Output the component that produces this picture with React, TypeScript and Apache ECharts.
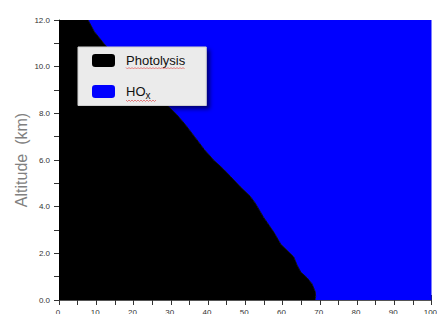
import React, { useEffect, useRef } from "react";
import * as echarts from "echarts";

const altitude = [0, 0.15, 0.35, 0.7, 0.95, 1.2, 1.5, 1.85, 2.4, 2.9, 3.55, 4.15, 4.45, 4.85, 5.3, 5.6, 6.0, 6.45, 7.0, 7.5, 7.95, 8.5, 9.0, 9.5, 10.0, 10.5, 11.0, 11.5, 12.0];
const photolysis = [68.7, 68.9, 68.8, 67.9, 66.6, 64.9, 63.9, 63.0, 59.5, 57.7, 54.9, 52.7, 51.3, 48.7, 46.0, 44.2, 41.5, 39.0, 36.4, 34.0, 31.6, 28.0, 24.5, 21.0, 17.7, 14.8, 12.0, 9.5, 7.8];
const hox = photolysis.map((p) => 100 - p);
const seriesNames = ["Photolysis", "HOx"];
const xTicks = [0, 100];
const yTicks = [0, 12];

export default function App() {
  const ref = useRef<HTMLDivElement>(null);
  useEffect(() => {
    document.body.style.margin = "0";
    document.body.style.overflow = "hidden";
    const chart = echarts.init(ref.current!, undefined, { renderer: "svg" });
    const boundary = altitude.map((a, i) => [photolysis[i], a]);
    const hoxData = altitude.map((a, i) => [100 - hox[i], a]);
    const zig = (x0: number, x1: number, y: number) => {
      const pts: number[][] = [];
      let up = true;
      for (let x = x0; x <= x1; x += 1.5) {
        pts.push([x, y + (up ? 0 : 1.5)]);
        up = !up;
      }
      return pts;
    };
    chart.setOption({
      animation: false,
      grid: { left: 59, right: 5.5, top: 20, bottom: 14, containLabel: false, outerBoundsMode: "none" },
      xAxis: [
        {
          type: "value", min: xTicks[0], max: xTicks[1], interval: 5, position: "bottom",
          axisLine: { show: true, lineStyle: { color: "#333", width: 1 } },
          axisTick: { show: true, length: 5, lineStyle: { color: "#333" } },
          splitLine: { show: false },
          axisLabel: {
            margin: 8, fontSize: 8, color: "#333", fontFamily: "Liberation Sans",
            formatter: (v: number) => (v % 10 === 0 ? v + "." : ""),
          },
        },
        {
          type: "value", min: xTicks[0], max: xTicks[1], interval: 5, position: "top",
          axisLine: { show: true, lineStyle: { color: "#555", width: 1 } },
          axisTick: { show: true, length: 5, lineStyle: { color: "#333" } },
          splitLine: { show: false },
          axisLabel: { show: false },
        },
      ],
      yAxis: [
        {
          type: "value", min: yTicks[0], max: yTicks[1], interval: 1, position: "left",
          name: "Altitude  (km)", nameLocation: "middle", nameGap: 30, nameMoveOverlap: false,
          nameTextStyle: { fontSize: 16, color: "#808080", fontFamily: "Liberation Sans" },
          axisLine: { show: true, lineStyle: { color: "#333", width: 1 } },
          axisTick: { show: true, length: 5, lineStyle: { color: "#333" } },
          splitLine: { show: false },
          axisLabel: {
            margin: 9, fontSize: 8, color: "#333", fontFamily: "Liberation Sans",
            formatter: (v: number) => (v % 2 === 0 ? v.toFixed(1) : ""),
          },
        },
        {
          type: "value", min: yTicks[0], max: yTicks[1], position: "right",
          axisLine: { show: true, lineStyle: { color: "#8a8", width: 1 } },
          axisTick: { show: false }, axisLabel: { show: false }, splitLine: { show: false },
        },
      ],
      legend: {
        data: seriesNames,
        orient: "vertical",
        left: 78, top: 47,
        padding: [7, 21, 5, 14],
        itemWidth: 23, itemHeight: 13, itemGap: 18,
        icon: "roundRect",
        backgroundColor: "#ebebeb",
        borderColor: "#d0d0d0", borderWidth: 1,
        shadowBlur: 4, shadowOffsetX: 3, shadowOffsetY: 3, shadowColor: "rgba(0,0,0,0.55)",
        selectedMode: false,
        formatter: (name: string) => (name === "HOx" ? "{n|HO}{s|x}" : "{n|" + name + "}"),
        textStyle: {
          fontFamily: "Liberation Sans", fontSize: 13, color: "#111",
          rich: {
            n: { fontFamily: "Liberation Sans", fontSize: 13, color: "#111", padding: [0, 0, 0, 6] },
            s: { fontFamily: "Liberation Sans", fontSize: 10, color: "#111", padding: [8, 0, 0, 0] },
          },
        },
      },
      graphic: [
        { type: "polyline", z: 100, shape: { points: zig(126, 185, 67.5) }, style: { stroke: "#e06060", lineWidth: 0.8, fill: null } },
        { type: "polyline", z: 100, shape: { points: zig(126, 157, 100) }, style: { stroke: "#e06060", lineWidth: 0.8, fill: null } },
      ],
      series: [
        {
          name: "HOx", type: "custom", coordinateSystem: "cartesian2d",
          itemStyle: { color: "#0000ff" }, encode: { x: 0, y: 1 }, clip: true,
          data: hoxData,
          renderItem: (params: any, api: any) => {
            if (params.dataIndex !== 0) return null;
            const pts = hoxData.map((d) => api.coord(d));
            const poly = [...pts, api.coord([100, 12]), api.coord([100, 0])];
            return { type: "polygon", shape: { points: poly }, style: { fill: "#0000ff" } };
          },
        },
        {
          name: "Photolysis", type: "custom", coordinateSystem: "cartesian2d",
          itemStyle: { color: "#000000" }, encode: { x: 0, y: 1 }, clip: true,
          data: boundary,
          renderItem: (params: any, api: any) => {
            if (params.dataIndex !== 0) return null;
            const pts = boundary.map((d) => api.coord(d));
            const poly = [api.coord([0, 0]), ...pts, api.coord([0, 12])];
            return { type: "polygon", shape: { points: poly }, style: { fill: "#000000", stroke: "#000000", lineWidth: 0.8 } };
          },
        },
      ],
    });
    return () => chart.dispose();
  }, []);
  return <div ref={ref} style={{ width: 437, height: 314 }} />;
}
